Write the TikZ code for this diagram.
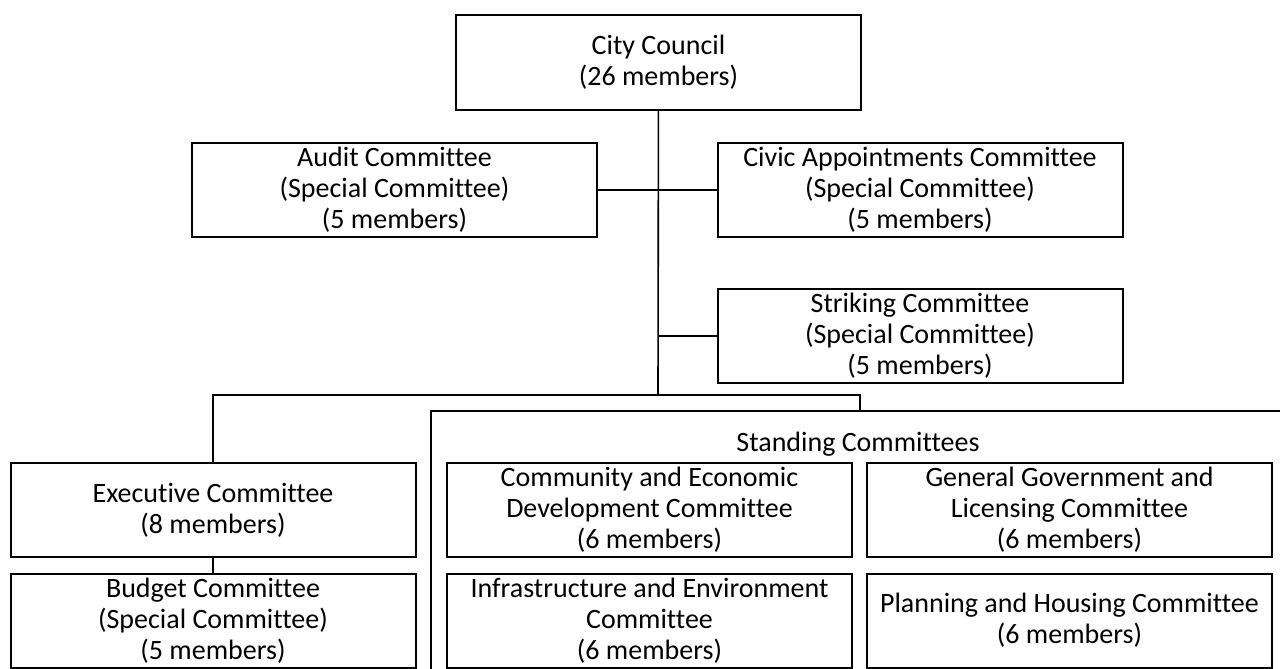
\documentclass[tikz,border=0pt]{standalone}
\usepackage{fontspec}
\setmainfont{Carlito}[Ligatures=NoCommon]
\usepackage{tikz}
\usetikzlibrary{calc}

\begin{document}
\begin{tikzpicture}[x=1pt, y=-1pt,
    box/.style={draw, line width=2pt, minimum width=405pt, minimum height=94pt,
        inner sep=0pt, align=center, font=\fontsize{28}{31}\selectfont},
    link/.style={draw, line width=1.1pt}
]
\useasboundingbox (0,0) rectangle (1280,669);
\clip (0,0) rectangle (1280,669);

\begin{scope}[every node/.style={box}]
    \node (CC) at (658.5, 62.5) {City Council\\(26 members)};
    % special
    \node (Audit) at (394.5, 190) {Audit Committee\\(Special Committee)\\(5 members)};
    \node (Civic) at (920, 190) {Civic Appointments Committee\\(Special Committee)\\(5 members)};
    \node (Striking) at (920, 336) {Striking Committee\\(Special Committee)\\(5 members)};
    % executive
    \node (Exec) at (213, 510) {Executive Committee\\(8 members)};
    \node (Budget) at (213, 620.5) {Budget Committee\\(Special Committee)\\(5 members)};
    % standing
    \node[minimum width=880pt, minimum height=300pt] (Standing) at (871, 561) {};
    \node[draw=none] (Stand_L) at (858, 444) {Standing Committees};
    \node (Comm) at (649.5, 510) {Community and Economic\\Development Committee\\(6 members)};
    \node (Gen) at (1069.5, 510) {General Government and\\Licensing Committee\\(6 members)};
    \node (Infra) at (649.5, 620.5) {Infrastructure and Environment\\Committee\\(6 members)};
    \node (Plan) at (1069.5, 620.5) {Planning and Housing Committee\\(6 members)};
\end{scope}

\coordinate (J) at (658, 395);
\coordinate (J_S) at (658, 336);
\coordinate (J_R) at (860, 395);

\begin{scope}[every path/.style={link}]
    \path [line width=1.6pt] (CC) -- (J);
    \path (Audit) -- (Civic);
    \path (J_S) -- (Striking);
    % bus
    \path (Exec) |- (J) -- (J_R) -- (J_R |- Standing.north);
    \path (Exec) -- (Budget);
\end{scope}
\end{tikzpicture}
\end{document}
